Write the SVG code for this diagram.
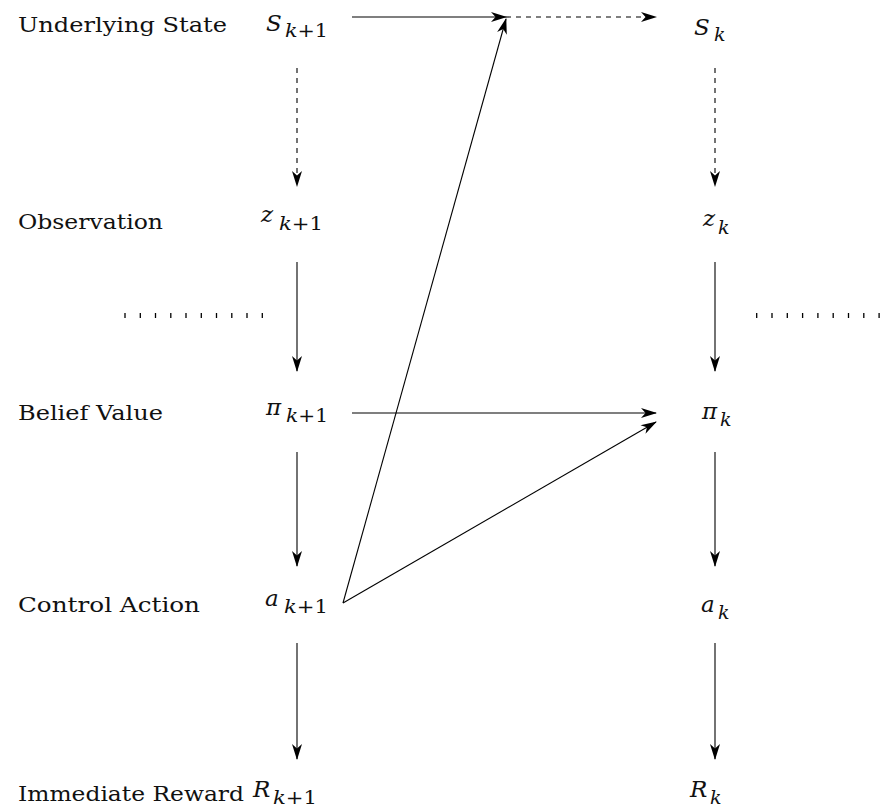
<svg xmlns="http://www.w3.org/2000/svg" width="888" height="809" viewBox="0 0 888 809">
<style>
.lbl{font-family:"DejaVu Serif","Liberation Serif",serif;font-size:21px;fill:#111}
.m{font-family:"DejaVu Serif","Liberation Serif",serif;font-size:23px;font-style:italic;fill:#111}
.s{font-family:"DejaVu Serif","Liberation Serif",serif;font-size:19px;fill:#111}
.i{font-style:italic}
.e{stroke:#000;stroke-width:1.1;fill:none;marker-end:url(#ah)}
.d{stroke-dasharray:5 5}
</style>
<defs>
<marker id="ah" markerUnits="userSpaceOnUse" markerWidth="20" markerHeight="14" viewBox="-17 -7 20 14" refX="0" refY="0" orient="auto">
<path d="M1,0 L-15,-5 L-10.5,0 L-15,5 Z" fill="#000"/>
</marker>
</defs>
<g id="labels">
<text class="lbl" x="18" y="32" textLength="209" lengthAdjust="spacingAndGlyphs">Underlying State</text>
<text class="lbl" x="18" y="229" textLength="145" lengthAdjust="spacingAndGlyphs">Observation</text>
<text class="lbl" x="18" y="420" textLength="145" lengthAdjust="spacingAndGlyphs">Belief Value</text>
<text class="lbl" x="18" y="612" textLength="182" lengthAdjust="spacingAndGlyphs">Control Action</text>
<text class="lbl" x="18" y="801" textLength="226" lengthAdjust="spacingAndGlyphs">Immediate Reward</text>
</g>
<g id="S_k1"><text class="m" x="266" y="31">S</text><text class="s" x="285" y="37" textLength="43" lengthAdjust="spacingAndGlyphs"><tspan class="i">k</tspan>+1</text></g>
<g id="S_k"><text class="m" x="694" y="35">S</text><text class="s" x="714" y="41"><tspan class="i">k</tspan></text></g>
<g id="z_k1"><text class="m" x="261" y="222">z</text><text class="s" x="279" y="230" textLength="44" lengthAdjust="spacingAndGlyphs"><tspan class="i">k</tspan>+1</text></g>
<g id="z_k"><text class="m" x="703" y="226">z</text><text class="s" x="718" y="234"><tspan class="i">k</tspan></text></g>
<g id="pi_k1"><text class="m" x="266" y="415">π</text><text class="s" x="286" y="422" textLength="42" lengthAdjust="spacingAndGlyphs"><tspan class="i">k</tspan>+1</text></g>
<g id="pi_k"><text class="m" x="702" y="419">π</text><text class="s" x="720" y="426"><tspan class="i">k</tspan></text></g>
<g id="a_k1"><text class="m" x="265" y="606">a</text><text class="s" x="284" y="613" textLength="44" lengthAdjust="spacingAndGlyphs"><tspan class="i">k</tspan>+1</text></g>
<g id="a_k"><text class="m" x="701" y="612">a</text><text class="s" x="718" y="619"><tspan class="i">k</tspan></text></g>
<g id="R_k1"><text class="m" x="253" y="797">R</text><text class="s" x="273" y="804" textLength="44" lengthAdjust="spacingAndGlyphs"><tspan class="i">k</tspan>+1</text></g>
<g id="R_k"><text class="m" x="690" y="797">R</text><text class="s" x="710" y="804"><tspan class="i">k</tspan></text></g>
<g id="dots" stroke="#000" stroke-width="1.3">
<path d="M125,313V318M140.3,313V318M155.5,313V318M170.8,313V318M186,313V318M201.3,313V318M216.5,313V318M231.8,313V318M247,313V318M262.3,313V318"/>
<path d="M756.7,313V318M772,313V318M787.3,313V318M802.6,313V318M817.9,313V318M833.2,313V318M848.5,313V318M863.8,313V318M879.1,313V318"/>
</g>
<g id="connectors">
<line class="e" x1="352" y1="17" x2="506" y2="17"/>
<line class="e d" x1="506" y1="17" x2="656" y2="17"/>
<line class="e" x1="343" y1="603" x2="506" y2="19"/>
<line class="e d" x1="297" y1="68" x2="297" y2="186"/>
<line class="e d" x1="715" y1="68" x2="715" y2="186"/>
<line class="e" x1="297" y1="262" x2="297" y2="371"/>
<line class="e" x1="715" y1="262" x2="715" y2="371"/>
<line class="e" x1="297" y1="452" x2="297" y2="566"/>
<line class="e" x1="715" y1="452" x2="715" y2="566"/>
<line class="e" x1="297" y1="643" x2="297" y2="759"/>
<line class="e" x1="715" y1="643" x2="715" y2="759"/>
<line class="e" x1="352" y1="413" x2="656" y2="413"/>
<line class="e" x1="343" y1="603" x2="656" y2="422"/>
</g>
</svg>
